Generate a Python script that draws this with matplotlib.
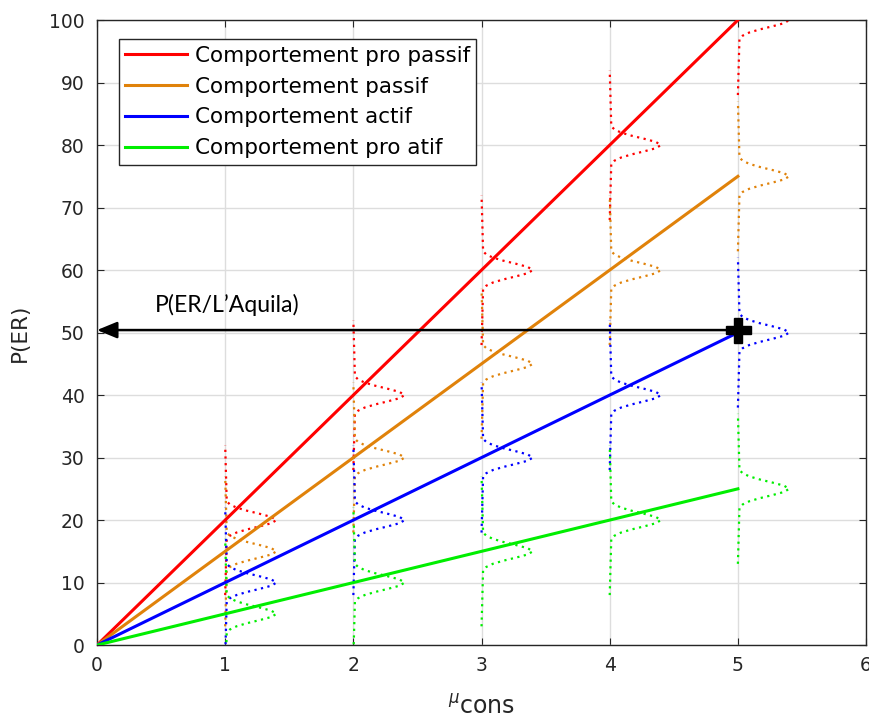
import matplotlib
matplotlib.use("Agg")
import matplotlib.pyplot as plt
import numpy as np

# behaviour lines: P(ER) at mu_cons = 0..5
mu_cons = [0, 1, 2, 3, 4, 5]
series_names = ["Comportement pro passif", "Comportement passif",
                "Comportement actif", "Comportement pro atif"]
series_values = [
    [0, 20, 40, 60, 80, 100],
    [0, 15, 30, 45, 60, 75],
    [0, 10, 20, 30, 40, 50],
    [0, 5, 10, 15, 20, 25],
]
colors = ["#ff0000", "#e0820a", "#0000ff", "#00ee00"]

# dotted density profile drawn sideways at each mu_cons (offset in P(ER), width in mu units)
bump_offsets = [-12, -3.0, -2.5, -2.0, -1.5, -1.0, -0.5, 0.0, 0.5, 1.0, 1.5, 2.0, 2.5, 3.0, 12]
bump_widths = [0, 0.012, 0.037, 0.088, 0.17, 0.27, 0.36, 0.40, 0.36, 0.27, 0.17, 0.088, 0.037, 0.012, 0]

# L'Aquila point
aquila_x = 5
aquila_p = 50.4

fig = plt.figure(figsize=(8.7, 7.24), dpi=100)
ax = fig.add_axes([0.1115, 0.109, 0.884, 0.8633])

lines = []
for vals, c, name in zip(series_values, colors, series_names):
    ln, = ax.plot(mu_cons, vals, "-", color=c, lw=2.2, label=name, zorder=3)
    lines.append(ln)

offs = np.array(bump_offsets)
wid = np.array(bump_widths)
for vals, c in zip(series_values, colors):
    for x, v in zip(mu_cons[1:], vals[1:]):
        ax.plot(x + wid, v + offs, color=c, lw=1.6, dashes=(1.0, 2.0), zorder=2)

ax.annotate("", xy=(0, aquila_p), xytext=(aquila_x, aquila_p),
            arrowprops=dict(arrowstyle="-|>,head_length=0.68,head_width=0.28",
                            color="black", lw=1.8, mutation_scale=18,
                            shrinkA=0, shrinkB=0), zorder=5)
ax.plot([aquila_x], [aquila_p], marker="P", color="black", markersize=18, zorder=6)
ax.text(0.45, 52.6, "P(ER/L\u2019Aquila)", fontsize=16.6, family="Lato",
        color="black", ha="left", va="bottom")

ax.set_xlim(0, 6)
ax.set_ylim(0, 100)
ax.set_xticks(range(0, 7))
ax.set_yticks(range(0, 101, 10))
ax.grid(True, color="#dddddd", lw=1.0)
ax.set_axisbelow(True)
ax.tick_params(direction="in", top=True, right=True, labelsize=13.5,
               colors="#262626", length=5)
ax.tick_params(axis="y", pad=9)
ax.tick_params(axis="x", pad=8)
for sp in ax.spines.values():
    sp.set_color("#262626")
    sp.set_linewidth(1.0)

ax.set_xlabel(r"$^{\mu}$cons", fontsize=17, color="#262626", labelpad=14)
ax.set_ylabel("P(ER)", fontsize=15.5, color="#262626", labelpad=14)

leg = ax.legend(handles=lines, loc="upper left", bbox_to_anchor=(0.028, 0.969),
                fontsize=15.5, fancybox=False, framealpha=1, edgecolor="#262626",
                handlelength=2.9, handletextpad=0.33, labelspacing=0.5,
                borderpad=0.3, borderaxespad=0)
leg.get_frame().set_linewidth(1.0)

fig.savefig("out.png", dpi=100)
